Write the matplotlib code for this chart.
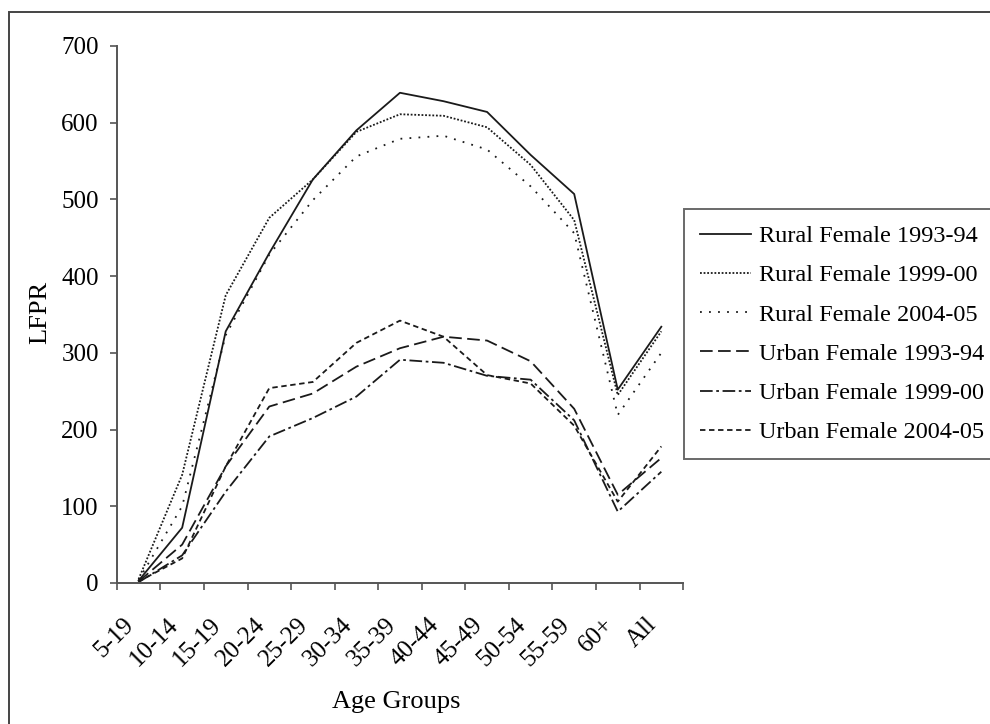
import matplotlib
matplotlib.use("Agg")
import matplotlib.pyplot as plt
from matplotlib.patches import Rectangle
import numpy as np

# age groups on the x axis
age_groups = ['5-19', '10-14', '15-19', '20-24', '25-29', '30-34', '35-39',
              '40-44', '45-49', '50-54', '55-59', '60+', 'All']

# LFPR values
rural_9394 = [3, 72, 328, 430, 526, 590, 639, 628, 614, 558, 507, 252, 334]
rural_9900 = [5, 141, 375, 476, 526, 588, 611, 609, 594, 545, 473, 245, 328]
rural_0405 = [4, 100, 323, 428, 499, 556, 579, 583, 565, 517, 456, 219, 300]
urban_9394 = [2, 50, 152, 230, 247, 282, 306, 321, 316, 289, 227, 115, 163]
urban_9900 = [1, 36, 119, 191, 215, 243, 291, 287, 270, 265, 212, 93, 145]
urban_0405 = [2, 32, 152, 254, 262, 313, 342, 321, 271, 260, 205, 106, 178]

series_labels = ['Rural Female 1993-94', 'Rural Female 1999-00', 'Rural Female 2004-05',
                 'Urban Female 1993-94', 'Urban Female 1999-00', 'Urban Female 2004-05']

plt.rcParams['font.family'] = ['Liberation Serif', 'DejaVu Serif']

fig = plt.figure(figsize=(9.9, 7.24), dpi=100)
ax = fig.add_axes([0.118, 0.1948, 0.572, 0.7417])

x = np.arange(len(age_groups))
ink = '#1a1a1a'
styles = [
    '-',
    (0, (1, 1)),
    (0, (1, 4)),
    (0, (7, 3)),
    (0, (7, 2, 1.5, 2)),
    (0, (3, 2)),
]
all_series = [rural_9394, rural_9900, rural_0405, urban_9394, urban_9900, urban_0405]
for vals, ls, lab in zip(all_series, styles, series_labels):
    ax.plot(x, vals, color=ink, linestyle=ls, linewidth=1.3, label=lab)

ax.set_xlim(-0.5, len(age_groups) - 0.5)
ax.set_ylim(0, 700)
ax.set_yticks(range(0, 701, 100))

# category labels at centers, tick marks between categories
ax.set_xticks(x)
ax.set_xticklabels(age_groups, rotation=45, ha='right')
ax.set_xticks(np.arange(-0.5, len(age_groups)), minor=True)
ax.tick_params(axis='x', which='major', length=0, pad=22, labelsize=18)
ax.tick_params(axis='x', which='minor', length=5, width=1.2, color='#555555')
ax.tick_params(axis='y', length=5, width=1.2, color='#555555', pad=8, labelsize=18)

for side in ['top', 'right']:
    ax.spines[side].set_visible(False)
for side in ['left', 'bottom']:
    ax.spines[side].set_color('#555555')
    ax.spines[side].set_linewidth(1.4)

fig.text(40 / 990, 1 - 312 / 724, 'LFPR', rotation=90, ha='center', va='center', fontsize=19)
fig.text(396 / 990, 1 - 702 / 724, 'Age Groups', ha='center', va='center', fontsize=19)

leg = fig.legend(loc='upper left', bbox_to_anchor=(684 / 990, 1 - 209 / 724),
                 fontsize=17.5, frameon=True, fancybox=False, handlelength=2.1,
                 handletextpad=0.33, labelspacing=0.71, borderpad=0.66, borderaxespad=0)
leg.get_frame().set_edgecolor('#444444')
leg.get_frame().set_linewidth(1.4)

# outer frame (cut by the image edge on the right and bottom)
fig.patches.append(Rectangle((9 / 990, -0.05), 1.2, 1 - 12 / 724 + 0.05,
                             transform=fig.transFigure, fill=False,
                             edgecolor='#444444', linewidth=1.4))

fig.savefig('out.png', dpi=100)
